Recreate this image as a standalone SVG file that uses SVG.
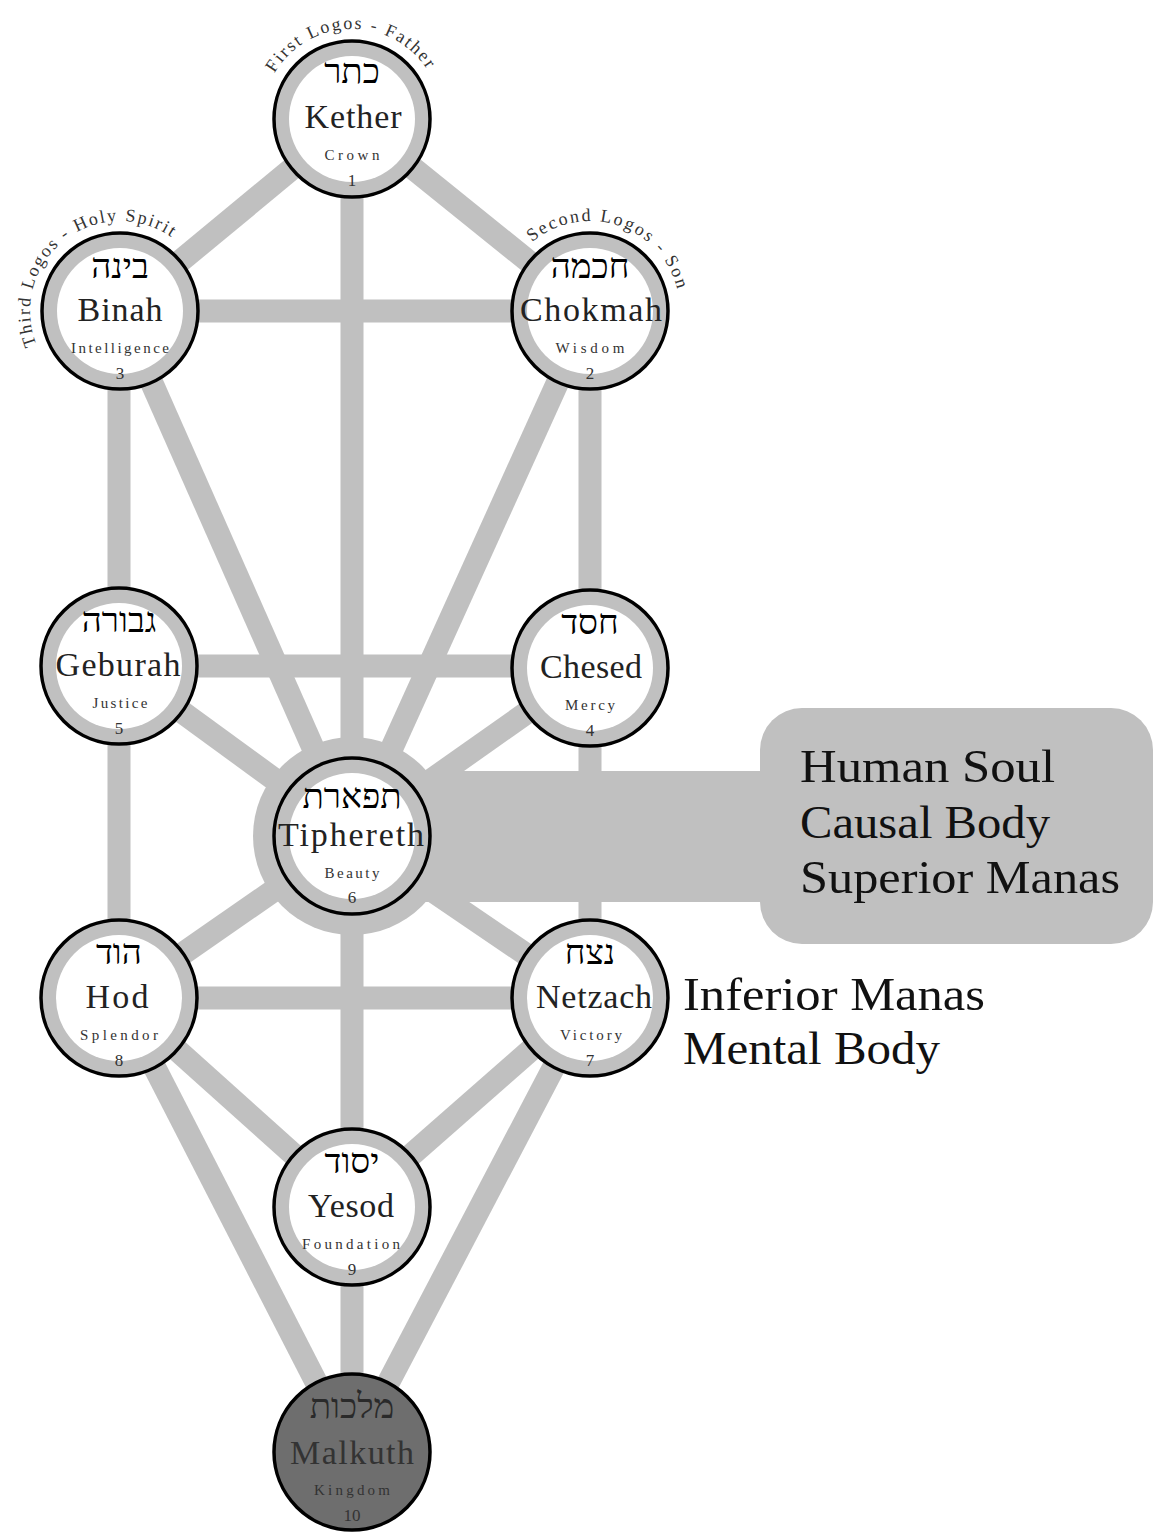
<svg xmlns="http://www.w3.org/2000/svg" width="1154" height="1533" viewBox="0 0 1154 1533">
<style>
.path{stroke:#c0c0c0;stroke-width:23;stroke-linecap:butt}
.ring{fill:#c0c0c0;stroke:#000;stroke-width:3.5}
.inner{fill:#fff}
.heb{font-family:"Liberation Serif","DejaVu Serif",serif;font-size:35px;fill:#000;text-anchor:middle}
.name{font-family:"Liberation Serif","DejaVu Serif",serif;font-size:34px;fill:#222;text-anchor:middle}
.sub{font-family:"Liberation Serif","DejaVu Serif",serif;font-size:15px;fill:#333;text-anchor:middle}
.num{font-family:"Liberation Serif","DejaVu Serif",serif;font-size:17px;fill:#333;text-anchor:middle}
.arc{font-family:"Liberation Serif","DejaVu Serif",serif;font-size:18px;fill:#333}
.big{font-family:"Liberation Serif","DejaVu Serif",serif;font-size:46px;fill:#111}
</style>
<defs>
<path id="arcK" d="M 272.5 76.7 A 90 90 0 0 1 430 74"/>
<path id="arcB" d="M 37.8 347.6 A 90 90 0 0 1 175.4 240.1"/>
<path id="arcC" d="M 529.8 244.1 A 90 90 0 0 1 678 292.3"/>
</defs>
<rect width="1154" height="1533" fill="#fff"/>
<g id="connectors">
<line class="path" x1="352" y1="119" x2="120" y2="311"/>
<line class="path" x1="352" y1="119" x2="590" y2="311"/>
<line class="path" x1="352" y1="119" x2="352" y2="836"/>
<line class="path" x1="120" y1="311" x2="590" y2="311"/>
<line class="path" x1="119" y1="311" x2="119" y2="998"/>
<line class="path" x1="120" y1="311" x2="352" y2="836"/>
<line class="path" x1="590" y1="311" x2="590" y2="998"/>
<line class="path" x1="590" y1="311" x2="352" y2="836"/>
<line class="path" x1="119" y1="666" x2="590" y2="666"/>
<line class="path" x1="119" y1="666" x2="352" y2="836"/>
<line class="path" x1="590" y1="668" x2="352" y2="836"/>
<line class="path" x1="352" y1="836" x2="119" y2="998"/>
<line class="path" x1="352" y1="836" x2="590" y2="998"/>
<line class="path" x1="352" y1="836" x2="352" y2="1452"/>
<line class="path" x1="119" y1="998" x2="590" y2="998"/>
<line class="path" x1="119" y1="998" x2="352" y2="1207"/>
<line class="path" x1="119" y1="998" x2="352" y2="1452"/>
<line class="path" x1="590" y1="998" x2="352" y2="1207"/>
<line class="path" x1="590" y1="998" x2="352" y2="1452"/>
<rect x="420" y="771" width="350" height="131" fill="#c0c0c0"/>
<circle cx="352" cy="836" r="99" fill="#c0c0c0"/>
</g>
<g id="soul-box">
<rect x="760" y="708" width="393" height="236" rx="42" fill="#c0c0c0"/>
<text class="big" x="800" y="782" textLength="255" lengthAdjust="spacingAndGlyphs">Human Soul</text>
<text class="big" x="800" y="838" textLength="250" lengthAdjust="spacingAndGlyphs">Causal Body</text>
<text class="big" x="800" y="893" textLength="320" lengthAdjust="spacingAndGlyphs">Superior Manas</text>
</g>
<g id="mental-label">
<text class="big" x="683" y="1010" textLength="302" lengthAdjust="spacingAndGlyphs">Inferior Manas</text>
<text class="big" x="683" y="1064" textLength="257" lengthAdjust="spacingAndGlyphs">Mental Body</text>
</g>
<g id="kether">
<circle class="ring" cx="352" cy="119" r="78"/><circle class="inner" cx="352" cy="119" r="63"/>
<text class="heb" x="352" y="83">כתר</text>
<text class="name" x="353" y="128" textLength="97" lengthAdjust="spacing">Kether</text>
<text class="sub" x="352" y="160" textLength="55" lengthAdjust="spacing">Crown</text>
<text class="num" x="352" y="186">1</text>
<text class="arc"><textPath href="#arcK" textLength="182" lengthAdjust="spacing" startOffset="4">First Logos - Father</textPath></text>
</g>
<g id="binah">
<circle class="ring" cx="120" cy="311" r="78"/><circle class="inner" cx="120" cy="311" r="63"/>
<text class="heb" x="120" y="278">בינה</text>
<text class="name" x="120" y="321" textLength="85" lengthAdjust="spacing">Binah</text>
<text class="sub" x="120" y="353" textLength="98" lengthAdjust="spacing">Intelligence</text>
<text class="num" x="120" y="379">3</text>
<text class="arc"><textPath href="#arcB" textLength="230" lengthAdjust="spacing" startOffset="3">Third Logos - Holy Spirit</textPath></text>
</g>
<g id="chokmah">
<circle class="ring" cx="590" cy="311" r="78"/><circle class="inner" cx="590" cy="311" r="63"/>
<text class="heb" x="590" y="278">חכמה</text>
<text class="name" x="591" y="321" textLength="142" lengthAdjust="spacing">Chokmah</text>
<text class="sub" x="590" y="353" textLength="69" lengthAdjust="spacing">Wisdom</text>
<text class="num" x="590" y="379">2</text>
<text class="arc"><textPath href="#arcC" textLength="182" lengthAdjust="spacing" startOffset="3">Second Logos - Son</textPath></text>
</g>
<g id="geburah">
<circle class="ring" cx="119" cy="666" r="78"/><circle class="inner" cx="119" cy="666" r="63"/>
<text class="heb" x="119" y="632">גבורה</text>
<text class="name" x="118" y="676" textLength="125" lengthAdjust="spacing">Geburah</text>
<text class="sub" x="120" y="708" textLength="55" lengthAdjust="spacing">Justice</text>
<text class="num" x="119" y="734">5</text>
</g>
<g id="chesed">
<circle class="ring" cx="590" cy="668" r="78"/><circle class="inner" cx="590" cy="668" r="63"/>
<text class="heb" x="590" y="634">חסד</text>
<text class="name" x="591" y="678" textLength="102" lengthAdjust="spacing">Chesed</text>
<text class="sub" x="590" y="710" textLength="50" lengthAdjust="spacing">Mercy</text>
<text class="num" x="590" y="736">4</text>
</g>
<g id="tiphereth">
<circle class="ring" cx="352" cy="836" r="78"/><circle class="inner" cx="352" cy="836" r="63"/>
<text class="heb" x="352" y="808">תפארת</text>
<text class="name" x="351" y="846" textLength="146" lengthAdjust="spacing">Tiphereth</text>
<text class="sub" x="352" y="878" textLength="55" lengthAdjust="spacing">Beauty</text>
<text class="num" x="352" y="903">6</text>
</g>
<g id="hod">
<circle class="ring" cx="119" cy="998" r="78"/><circle class="inner" cx="119" cy="998" r="63"/>
<text class="heb" x="119" y="964">הוד</text>
<text class="name" x="117" y="1008" textLength="63" lengthAdjust="spacing">Hod</text>
<text class="sub" x="119" y="1040" textLength="78" lengthAdjust="spacing">Splendor</text>
<text class="num" x="119" y="1066">8</text>
</g>
<g id="netzach">
<circle class="ring" cx="590" cy="998" r="78"/><circle class="inner" cx="590" cy="998" r="63"/>
<text class="heb" x="590" y="964">נצח</text>
<text class="name" x="594" y="1008" textLength="116" lengthAdjust="spacing">Netzach</text>
<text class="sub" x="591" y="1040" textLength="62" lengthAdjust="spacing">Victory</text>
<text class="num" x="590" y="1066">7</text>
</g>
<g id="yesod">
<circle class="ring" cx="352" cy="1207" r="78"/><circle class="inner" cx="352" cy="1207" r="63"/>
<text class="heb" x="352" y="1173">יסוד</text>
<text class="name" x="351" y="1217" textLength="86" lengthAdjust="spacing">Yesod</text>
<text class="sub" x="351" y="1249" textLength="98" lengthAdjust="spacing">Foundation</text>
<text class="num" x="352" y="1275">9</text>
</g>
<g id="malkuth">
<circle cx="352" cy="1452" r="78" fill="#6e6e6e" stroke="#000" stroke-width="3.5"/>
<text class="heb" x="352" y="1418" style="fill:#2a2a2a">מלכות</text>
<text class="name" x="352" y="1464" textLength="124" lengthAdjust="spacing" style="fill:#333">Malkuth</text>
<text class="sub" x="352" y="1495" textLength="76" lengthAdjust="spacing" style="fill:#333">Kingdom</text>
<text class="num" x="352" y="1521" style="fill:#333">10</text>
</g>
</svg>
